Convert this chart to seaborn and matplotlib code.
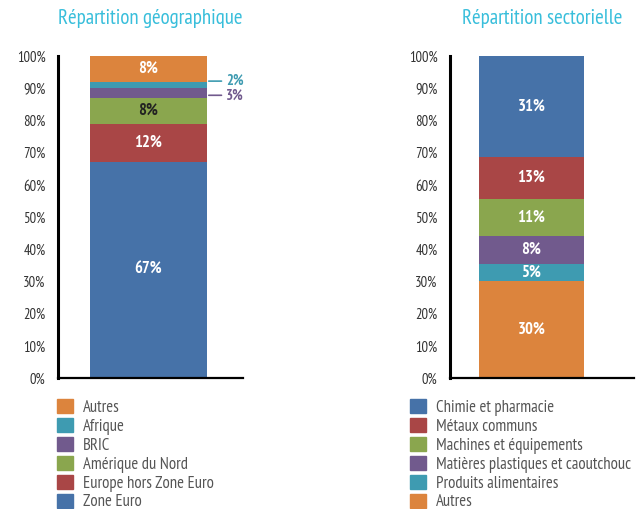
import matplotlib
matplotlib.use("Agg")
import matplotlib.pyplot as plt
import matplotlib.patches as mpatches
from matplotlib.ticker import PercentFormatter
import seaborn as sns

# --- data -------------------------------------------------------------
geo_names = ["Zone Euro", "Europe hors Zone Euro", "Amérique du Nord", "BRIC", "Afrique", "Autres"]
geo_values = [67, 12, 8, 3, 2, 8]
geo_labels = ["67%", "12%", "8%", "3%", "2%", "8%"]

sect_names = ["Autres", "Produits alimentaires", "Matières plastiques et caoutchouc",
              "Machines et équipements", "Métaux communs", "Chimie et pharmacie"]
sect_values = [30.1, 5.3, 8.6, 11.6, 13.0, 31.4]
sect_labels = ["30%", "5%", "8%", "11%", "13%", "31%"]

yticks = [0, 10, 20, 30, 40, 50, 60, 70, 80, 90, 100]

# --- colours ----------------------------------------------------------
BLUE = "#4672a8"
RED = "#a94646"
GREEN = "#8aa64e"
PURPLE = "#715a8d"
TEAL = "#3e9bb1"
ORANGE = "#dc843d"
TITLE_C = "#38bedb"

geo_colors = [BLUE, RED, GREEN, PURPLE, TEAL, ORANGE]
sect_colors = [ORANGE, TEAL, PURPLE, GREEN, RED, BLUE]

sns.set_style("white")
# condensed face like the original, with fallbacks
plt.rcParams["font.family"] = ["PT Sans Narrow", "Asap Condensed", "DejaVu Sans"]

fig = plt.figure(figsize=(6.43, 5.09), dpi=100)
ax1 = fig.add_axes([58 / 643, 1 - 378 / 509, 185 / 643, 322 / 509])
ax2 = fig.add_axes([450 / 643, 1 - 378 / 509, 184 / 643, 322 / 509])


def stacked(ax, values, colors, width):
    bottom = 0
    for v, c in zip(values, colors):
        sns.barplot(x=["a"], y=[v], bottom=bottom, color=c, width=width,
                    saturation=1, linewidth=0, ax=ax)
        bottom += v


def style_axis(ax, left, right, title):
    ax.set_xlim(left, right)
    ax.set_ylim(0, 100)
    ax.set_yticks(yticks)
    ax.yaxis.set_major_formatter(PercentFormatter(decimals=0))
    ax.tick_params(axis="y", length=0, pad=9, labelsize=10.5, labelcolor="#333333")
    ax.set_xticks([])
    ax.set_xlabel("")
    ax.set_ylabel("")
    for s in ["top", "right"]:
        ax.spines[s].set_visible(False)
    ax.spines["left"].set_color("black")
    ax.spines["left"].set_linewidth(2.2)
    ax.spines["bottom"].set_color("black")
    ax.spines["bottom"].set_linewidth(1.6)
    ax.set_title(title, color=TITLE_C, fontsize=15, pad=23)


# left chart
stacked(ax1, geo_values, geo_colors, 0.632)
style_axis(ax1, -0.489, 0.511, "Répartition géographique")
cum = 0
for i, (v, lab) in enumerate(zip(geo_values, geo_labels)):
    mid = cum + v / 2
    cum += v
    if geo_names[i] in ("BRIC", "Afrique"):
        continue
    col = "#222222" if geo_names[i] == "Amérique du Nord" else "white"
    ax1.text(0, mid, lab, ha="center", va="center", color=col,
             fontsize=12, fontweight="bold")

# small segments labelled outside with leader lines
ax1.annotate("2%", xy=(0.326, 92.2), xytext=(0.42, 92.2), color=TEAL,
             fontsize=10.5, fontweight="bold", va="center", ha="left",
             arrowprops=dict(arrowstyle="-", color=TEAL, lw=1.2,
                             shrinkA=1, shrinkB=0))
ax1.annotate("3%", xy=(0.326, 87.8), xytext=(0.42, 87.8), color=PURPLE,
             fontsize=10.5, fontweight="bold", va="center", ha="left",
             arrowprops=dict(arrowstyle="-", color=PURPLE, lw=1.2,
                             shrinkA=1, shrinkB=0))

# right chart
stacked(ax2, sect_values, sect_colors, 0.57)
style_axis(ax2, -0.443, 0.557, "Répartition sectorielle")
cum = 0
for v, lab in zip(sect_values, sect_labels):
    ax2.text(0, cum + v / 2, lab, ha="center", va="center", color="white",
             fontsize=12, fontweight="bold")
    cum += v


# legends (top segment listed first)
def add_legend(names, colors, x):
    handles = [mpatches.Patch(color=c, label=n) for n, c in zip(names, colors)]
    fig.legend(handles=handles[::-1], loc="upper left",
               bbox_to_anchor=(x, 1 - 399 / 509), frameon=False,
               fontsize=12, labelcolor="#555555", handlelength=0.95,
               handleheight=0.95, handletextpad=0.6, labelspacing=0.12,
               borderpad=0, borderaxespad=0)


add_legend(geo_names, geo_colors, 57 / 643)
add_legend(sect_names, sect_colors, 410 / 643)

fig.savefig("out.png", dpi=100)
